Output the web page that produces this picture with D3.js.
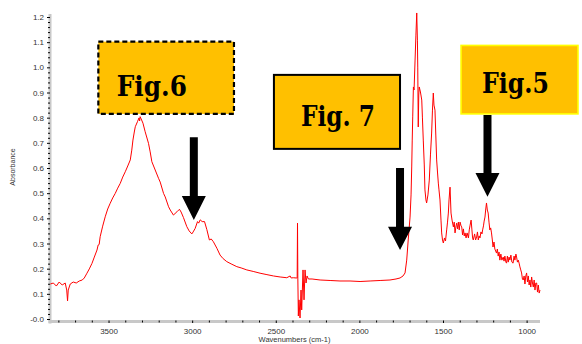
<!DOCTYPE html>
<html><head><meta charset="utf-8">
<script src="https://cdn.jsdelivr.net/npm/d3@7"></script>
<style>body{margin:0;background:#fff}svg{display:block}</style>
</head><body><svg id="c" width="582" height="344"></svg>
<script>
// ---- data ----
const wavenumbers = [
3848,3830,3812,3795,3777,3759,3750,3745,3741,3729,3711,3693,3675,3657,3645,3629,3615,3599,3585,3569,3562,3556,3550,3535,3520,3505,3490,3475,3460,3445,3430,3415,3400,3385,3370,3361,3354,3346,3340,3327,3318,3314,3311,3305,3294,3281,3261,3251,3241,3221,3201,3191,3171,3161,3141,3131,3112,3091,3076,3066,3052,3032,3018,3002,2994,2982,2968,2961,2952,2940,2926,2912,2897,2886,2873,2852,2833,2815,2793,2767,2733,2707,2673,2635,2594,2558,2514,2474,2434,2414,2408,2395,2378,2372,2370,2368,2365,2361,2355,2349,2345,2337,2331,2325,2319,2313,2305,2283,2235,2175,2116,2056,1996,1936,1876,1817,1781,1757,1739,1727,1717,1708,1697,1691,1687,1684,1681,1677,1673,1667,1662,1657,1653,1651,1648,1645,1642,1635,1627,1623,1618,1612,1608,1602,1598,1590,1582,1575,1568,1563,1558,1554,1548,1543,1538,1533,1528,1524,1518,1512,1508,1503,1498,1491,1485,1478,1473,1468,1464,1458,1455,1452,1446,1438,1433,1428,1422,1418,1413,1408,1403,1398,1392,1388,1383,1378,1373,1368,1362,1356,1348,1343,1338,1332,1327,1323,1319,1311,1305,1299,1294,1289,1284,1279,1273,1267,1263,1258,1254,1249,1245,1240,1235,1230,1225,1220,1215,1210,1205,1201,1195,1190,1180,1175,1170,1165,1160,1154,1148,1140,1135,1130,1124,1120,1115,1110,1105,1100,1094,1088,1081,1075,1070,1064,1060,1055,1050,1045,1040,1035,1030,1025,1020,1015,1010,1005,1000,995,990,985,980,975,970,965,960,955,950,945,940,935,930,925,920];
const absorbance = [
0.139,0.143,0.131,0.147,0.135,0.143,0.115,0.072,0.115,0.139,0.147,0.143,0.151,0.155,0.163,0.182,0.199,0.221,0.246,0.274,0.294,0.296,0.327,0.369,0.406,0.437,0.460,0.481,0.499,0.520,0.539,0.564,0.585,0.608,0.632,0.671,0.711,0.743,0.764,0.784,0.799,0.787,0.804,0.795,0.778,0.744,0.698,0.664,0.625,0.592,0.559,0.544,0.499,0.485,0.446,0.433,0.413,0.426,0.436,0.425,0.403,0.367,0.350,0.338,0.346,0.360,0.387,0.381,0.394,0.387,0.387,0.355,0.314,0.318,0.307,0.281,0.254,0.240,0.228,0.219,0.208,0.203,0.195,0.189,0.182,0.177,0.171,0.167,0.164,0.171,0.163,0.164,0.163,0.163,0.381,0.163,0.012,0.076,0.004,0.115,0.036,0.195,0.076,0.195,0.143,0.171,0.159,0.159,0.155,0.153,0.151,0.151,0.149,0.151,0.153,0.155,0.159,0.163,0.171,0.183,0.234,0.314,0.405,0.493,0.604,0.711,0.803,0.922,0.910,1.029,1.128,1.216,1.108,1.001,0.763,0.890,0.922,0.902,0.870,0.799,0.711,0.612,0.513,0.473,0.461,0.493,0.552,0.652,0.739,0.830,0.898,0.850,0.830,0.731,0.632,0.584,0.540,0.513,0.473,0.393,0.342,0.314,0.302,0.322,0.310,0.354,0.385,0.421,0.473,0.524,0.473,0.421,0.393,0.366,0.385,0.342,0.370,0.381,0.358,0.385,0.354,0.385,0.370,0.366,0.334,0.358,0.330,0.342,0.322,0.342,0.322,0.354,0.373,0.393,0.354,0.322,0.314,0.338,0.314,0.326,0.346,0.314,0.330,0.322,0.346,0.338,0.354,0.370,0.389,0.405,0.433,0.461,0.433,0.421,0.385,0.354,0.362,0.342,0.314,0.286,0.306,0.278,0.262,0.278,0.250,0.266,0.234,0.258,0.234,0.246,0.230,0.250,0.226,0.222,0.250,0.226,0.246,0.234,0.254,0.226,0.222,0.250,0.234,0.258,0.246,0.226,0.234,0.222,0.207,0.195,0.183,0.159,0.155,0.171,0.139,0.171,0.183,0.147,0.171,0.135,0.155,0.127,0.167,0.143,0.127,0.155,0.115,0.143,0.143,0.107,0.135,0.103,0.115];
const xTickValues = [3500, 3000, 2500, 2000, 1500, 1000];
const xTickLabels = ["3500", "3000", "2500", "2000", "1500", "1000"];
const yTickValues = [0, 0.1, 0.2, 0.3, 0.4, 0.5, 0.6, 0.7, 0.8, 0.9, 1.0, 1.1, 1.2];
const yTickLabels = ["-0.0", "0.1", "0.2", "0.3", "0.4", "0.5", "0.6", "0.7", "0.8", "0.9", "1.0", "1.1", "1.2"];
const figLabels = ["Fig.6", "Fig. 7", "Fig.5"];
const xTitle = "Wavenumbers (cm-1)";
const yTitle = "Absorbance";

// ---- drawing ----
const svg = d3.select("#c");
const x = d3.scaleLinear().domain([3850, 920]).range([50, 540]);
const y = d3.scaleLinear().domain([0, 1.2]).range([319, 17]);
const pts = wavenumbers.map((w, i) => [w, absorbance[i]]);

// axis bars (gray)
svg.append("rect").attr("x", 48.5).attr("y", y(1.212)).attr("width", 3).attr("height", y(-0.012) - y(1.212) + 1.5).attr("fill", "#c8c8c8");
svg.append("rect").attr("x", 48.5).attr("y", 320).attr("width", x(920) - 48.5).attr("height", 3).attr("fill", "#c8c8c8");

const tickFont = "'Liberation Sans', Arial, sans-serif";
// x axis
const xMinor = d3.range(3800, 900, -100).filter(v => !xTickValues.includes(v));
svg.append("g").attr("transform", "translate(0,320.5)")
  .call(d3.axisBottom(x).tickValues(xMinor).tickSize(2).tickSizeOuter(0).tickFormat(""))
  .call(g => g.select(".domain").remove())
  .call(g => g.selectAll("line").attr("stroke", "#000"));
svg.append("g").attr("transform", "translate(0,320.5)")
  .call(d3.axisBottom(x).tickValues(xTickValues).tickSize(2.5).tickSizeOuter(0).tickPadding(5)
        .tickFormat((d, i) => xTickLabels[i]))
  .call(g => g.select(".domain").remove())
  .call(g => g.selectAll("line").attr("stroke", "#000"))
  .call(g => g.selectAll("text").attr("font-size", 8).attr("font-family", tickFont).attr("fill", "#333"));

// y axis
const yMinor = d3.range(0, 61).map(i => i * 0.02).filter(v => Math.abs(v * 10 - Math.round(v * 10)) > 1e-6);
svg.append("g").attr("transform", "translate(50,0)")
  .call(d3.axisLeft(y).tickValues(yMinor).tickSize(2).tickSizeOuter(0).tickFormat(""))
  .call(g => g.select(".domain").remove())
  .call(g => g.selectAll("line").attr("stroke", "#000"));
svg.append("g").attr("transform", "translate(50,0)")
  .call(d3.axisLeft(y).tickValues(yTickValues).tickSize(3).tickSizeOuter(0).tickPadding(3)
        .tickFormat((d, i) => yTickLabels[i]))
  .call(g => g.select(".domain").remove())
  .call(g => g.selectAll("line").attr("stroke", "#000"))
  .call(g => g.selectAll("text").attr("font-size", 8).attr("font-family", tickFont).attr("fill", "#333"));

// titles
svg.append("text").attr("transform", "translate(14.5,167) rotate(-90)").attr("text-anchor", "middle")
  .attr("font-size", 7).attr("font-family", tickFont).attr("fill", "#333").text(yTitle);
svg.append("text").attr("x", 294.5).attr("y", 342).attr("text-anchor", "middle")
  .attr("font-size", 7.5).attr("font-family", tickFont).attr("fill", "#333").text(xTitle);

// spectrum
svg.append("path").datum(pts)
  .attr("d", d3.line().x(d => x(d[0])).y(d => y(d[1])))
  .attr("fill", "none").attr("stroke", "#ff0000").attr("stroke-width", 1).attr("stroke-linejoin", "round");

// annotation boxes (positions in data units)
const serif = "'DejaVu Serif', 'Liberation Serif', serif";
function box(w0, w1, a0, a1, stroke, sw, dash, label, tx, dy, tlen) {
  const r = svg.append("rect").attr("x", x(w0)).attr("y", y(a0))
    .attr("width", x(w1) - x(w0)).attr("height", y(a1) - y(a0))
    .attr("fill", "#FFC000").attr("stroke", stroke).attr("stroke-width", sw);
  if (dash) r.attr("stroke-dasharray", dash);
  svg.append("text").attr("x", x(w0) + tx).attr("y", (y(a0) + y(a1)) / 2 + dy)
    .attr("font-family", serif).attr("font-weight", "bold").attr("font-size", 28)
    .attr("textLength", tlen).attr("lengthAdjust", "spacingAndGlyphs").attr("fill", "#000").text(label);
}
box(3561, 2750, 1.102, 0.815, "#000", 2.2, "5,3", figLabels[0], 18.5, 18, 70);
box(2511, 1757, 0.970, 0.676, "#000", 2, null, figLabels[1], 27, 14, 74);
box(1392, 693, 1.087, 0.815, "#ffff00", 1.6, null, figLabels[2], 21, 13.5, 67);

// arrows
function arrow(w, aTop, aBase, aTip) {
  const cx = x(w);
  const p = [[cx - 4, y(aTop)], [cx + 4, y(aTop)], [cx + 4, y(aBase)], [cx + 12, y(aBase)],
             [cx, y(aTip)], [cx - 12, y(aBase)], [cx - 4, y(aBase)]];
  svg.append("polygon").attr("points", p.map(q => q.join(",")).join(" ")).attr("fill", "#000");
}
arrow(2990, 0.722, 0.489, 0.393);
arrow(1757, 0.600, 0.367, 0.274);
arrow(1234, 0.811, 0.580, 0.486);
</script></body></html>
